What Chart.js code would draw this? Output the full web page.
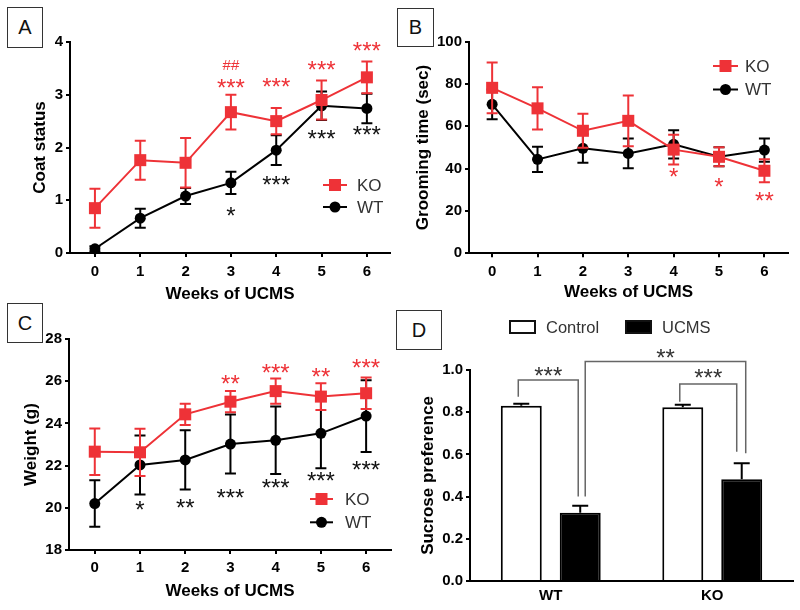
<!DOCTYPE html>
<html>
<head>
<meta charset="utf-8">
<script src="https://cdn.jsdelivr.net/npm/chart.js@4.4.1/dist/chart.umd.min.js"></script>
<style>
  body { margin: 0; background: #fff; width: 800px; height: 610px; position: relative; overflow: hidden; }
  canvas { position: absolute; }
  .tag { position: absolute; box-sizing: border-box; border: 1px solid #333; background: #fff; z-index: 5;
         font: 20px "Liberation Sans", Arial, sans-serif; color: #111; display: flex; align-items: center; justify-content: center; }
</style>
</head>
<body>
<canvas id="chartA" width="400" height="305" style="left:0;top:0"></canvas>
<canvas id="chartB" width="400" height="305" style="left:400px;top:0"></canvas>
<canvas id="chartC" width="400" height="310" style="left:0;top:300px"></canvas>
<canvas id="chartD" width="400" height="310" style="left:400px;top:300px"></canvas>
<div class="tag" style="left:7px;top:7px;width:36px;height:41px">A</div>
<div class="tag" style="left:397px;top:8px;width:37px;height:39px">B</div>
<div class="tag" style="left:7px;top:303px;width:36px;height:40px">C</div>
<div class="tag" style="left:396px;top:310px;width:46px;height:40px">D</div>
<script>
// ---- data ----
const weeks = [0, 1, 2, 3, 4, 5, 6];

// A: coat status
const coatKO = [0.85, 1.76, 1.71, 2.67, 2.50, 2.90, 3.33];
const coatKOErr = [0.37, 0.37, 0.47, 0.33, 0.25, 0.37, 0.30];
const coatWT = [0.08, 0.66, 1.08, 1.33, 1.95, 2.79, 2.74];
const coatWTErr = [0.05, 0.18, 0.15, 0.21, 0.28, 0.27, 0.28];
const coatKOMarkWeeks = [3, 3, 4, 5, 6];
const coatKOMarks = ['##', '***', '***', '***', '***'];
const coatKOMarkY = [3.56, 3.22, 3.23, 3.55, 3.91];
const coatWTMarkWeeks = [3, 4, 5, 6];
const coatWTMarks = ['*', '***', '***', '***'];
const coatWTMarkY = [0.78, 1.38, 2.24, 2.33];

// B: grooming time
const groomKO = [78.2, 68.5, 57.9, 62.6, 49.0, 45.6, 39.0];
const groomKOErr = [12, 10, 8, 12, 7, 4.5, 5.4];
const groomWT = [70.4, 44.4, 49.6, 47.2, 51.5, 45.6, 48.8];
const groomWTErr = [7, 6, 6.8, 7, 6.7, 4.5, 5.5];
const groomKOMarkWeeks = [4, 5, 6];
const groomKOMarks = ['*', '*', '**'];
const groomKOMarkY = [38.3, 33.4, 27];

// C: weight
const weightKO = [22.66, 22.63, 24.43, 25.03, 25.53, 25.27, 25.43];
const weightKOErr = [1.1, 1.12, 0.5, 0.5, 0.6, 0.63, 0.75];
const weightWT = [20.2, 22.03, 22.27, 23.02, 23.2, 23.53, 24.35];
const weightWTErr = [1.1, 1.4, 1.4, 1.4, 1.6, 1.65, 1.7];
const weightKOMarkWeeks = [3, 4, 5, 6];
const weightKOMarks = ['**', '***', '**', '***'];
const weightKOMarkY = [26.1, 26.6, 26.4, 26.85];
const weightWTMarkWeeks = [1, 2, 3, 4, 5, 6];
const weightWTMarks = ['*', '**', '***', '***', '***', '***'];
const weightWTMarkY = [20.1, 20.2, 20.7, 21.15, 21.5, 22.0];

// D: sucrose preference
const genotypes = ['WT', 'KO'];
const sucroseControl = [0.83, 0.823];
const sucroseControlErr = [0.01, 0.012];
const sucroseUCMS = [0.324, 0.482];
const sucroseUCMSErr = [0.033, 0.076];
// brackets: [dataset, index] pairs, leg bottoms, bracket top, star height
const bracketFrom = [[0, 0], [1, 0], [0, 1]];
const bracketTo = [[1, 0], [1, 1], [1, 1]];
const bracketLegs = [[0.873, 0.40], [0.40, 0.605], [0.85, 0.613]];
const bracketTop = [0.953, 1.04, 0.934];
const bracketText = ['***', '**', '***'];
const bracketTextY = [0.995, 1.08, 0.984];

const RED = '#ee3237';
const FONT = '"Liberation Sans", Arial, sans-serif';
Chart.defaults.font.family = FONT;
Chart.defaults.color = '#000';

// error bars, drawn just before (lines) or after (bars) each dataset
const errorBars = {
  id: 'errorBars',
  drawBars(chart, args) {
    const ds = chart.data.datasets[args.index];
    if (!ds.errors) return;
    const yScale = chart.scales.y;
    const ctx = chart.ctx;
    ctx.save();
    ctx.strokeStyle = ds.errorColor || ds.borderColor;
    ctx.lineWidth = 2;
    args.meta.data.forEach((el, i) => {
      const d = ds.data[i];
      const v = typeof d === 'object' ? d.y : d;
      const e = ds.errors[i];
      const top = yScale.getPixelForValue(v + e);
      const bot = yScale.getPixelForValue(ds.upOnly ? v : v - e);
      const w = ds.capHalf || 5.5;
      ctx.beginPath();
      ctx.moveTo(el.x, bot); ctx.lineTo(el.x, top);
      ctx.moveTo(el.x - w, top); ctx.lineTo(el.x + w, top);
      if (!ds.upOnly) { ctx.moveTo(el.x - w, bot); ctx.lineTo(el.x + w, bot); }
      ctx.stroke();
    });
    ctx.restore();
  },
  beforeDatasetDraw(chart, args) {
    if (chart.config.type === 'line') this.drawBars(chart, args);
  },
  afterDatasetDraw(chart, args) {
    if (chart.config.type === 'bar') this.drawBars(chart, args);
  }
};

function drawInkCentered(ctx, text, x, y) {
  const m = ctx.measureText(text);
  ctx.fillText(text, x, y + (m.actualBoundingBoxAscent - m.actualBoundingBoxDescent) / 2);
}

// significance marks placed in data units
const sigMarks = {
  id: 'sigMarks',
  afterDraw(chart, args, opts) {
    const ctx = chart.ctx;
    ctx.save();
    ctx.textAlign = 'center';
    ctx.textBaseline = 'alphabetic';
    (opts.groups || []).forEach(g => {
      ctx.fillStyle = g.color;
      g.texts.forEach((t, i) => {
        ctx.font = (t[0] === '#' ? '15px ' : '24px ') + FONT;
        const x = chart.scales.x.getPixelForValue(g.xs[i]);
        const y = chart.scales.y.getPixelForValue(g.ys[i]);
        drawInkCentered(ctx, t, x, y);
      });
    });
    ctx.restore();
  }
};

// legend inside the plot for the line panels
const innerLegend = {
  id: 'innerLegend',
  afterDraw(chart, args, opts) {
    if (!opts.x) return;
    const ctx = chart.ctx;
    ctx.save();
    chart.data.datasets.forEach((ds, i) => {
      const y = opts.y + i * opts.dy;
      ctx.strokeStyle = ds.borderColor;
      ctx.fillStyle = ds.borderColor;
      ctx.lineWidth = 2;
      ctx.beginPath();
      ctx.moveTo(opts.x, y); ctx.lineTo(opts.x + opts.len, y);
      ctx.stroke();
      const cx = opts.x + opts.len / 2;
      ctx.beginPath();
      if (ds.pointStyle === 'rect') ctx.rect(cx - 6, y - 6, 12, 12);
      else ctx.arc(cx, y, 5.5, 0, Math.PI * 2);
      ctx.fill();
      ctx.fillStyle = '#333';
      ctx.font = '17px ' + FONT;
      ctx.textAlign = 'left';
      ctx.textBaseline = 'middle';
      ctx.fillText(ds.label, opts.textX, y + 1);
    });
    ctx.restore();
  }
};

function toPoints(vals) {
  return weeks.map((w, i) => ({ x: w, y: vals[i] }));
}

function lineDataset(label, vals, errs, color, style) {
  return {
    label: label,
    data: toPoints(vals),
    errors: errs,
    borderColor: color,
    backgroundColor: color,
    borderWidth: 2,
    pointStyle: style,
    pointRadius: style === 'rect' ? 8.5 : 5.5,
    pointBorderWidth: 0,
    tension: 0,
    clip: false
  };
}

function axisStyle() {
  return {
    grid: { drawOnChartArea: false, drawTicks: true, tickLength: 4, color: '#000', lineWidth: 2 },
    border: { display: true, color: '#000', width: 2 }
  };
}

function createLinePanel(id, p) {
  const xAxis = Object.assign(axisStyle(), {
    type: 'linear', min: p.xMin, max: p.xMax,
    afterBuildTicks: s => { s.ticks = weeks.map(w => ({ value: w })); },
    afterFit: s => { s.height = p.xHeight; },
    ticks: { font: { size: 15, weight: 'bold' }, padding: p.xTickPad, color: '#000' },
    title: { display: true, text: 'Weeks of UCMS', font: { size: 17, weight: 'bold' }, padding: { top: 0, bottom: p.xTitlePad }, color: '#000' }
  });
  const yAxis = Object.assign(axisStyle(), {
    min: p.yMin, max: p.yMax,
    afterFit: s => { s.width = p.yWidth; },
    ticks: { stepSize: p.yStep, font: { size: 15, weight: 'bold' }, padding: 3, color: '#000' },
    title: { display: true, text: p.yTitle, font: { size: 17, weight: 'bold' }, padding: { top: p.yTitlePad, bottom: 0 }, color: '#000' }
  });
  return new Chart(document.getElementById(id), {
    type: 'line',
    data: { datasets: p.datasets },
    options: {
      responsive: false, animation: false, events: [],
      devicePixelRatio: 1,
      layout: { autoPadding: false, padding: p.padding },
      scales: { x: xAxis, y: yAxis },
      plugins: {
        legend: { display: false }, tooltip: { enabled: false },
        sigMarks: { groups: p.marks },
        innerLegend: p.legend
      }
    },
    plugins: [errorBars, sigMarks, innerLegend]
  });
}

createLinePanel('chartA', {
  xMin: -0.55, xMax: 6.51, yMin: 0, yMax: 4, yStep: 1,
  yTitle: 'Coat status', yWidth: 70, yTitlePad: 30,
  xHeight: 52, xTickPad: 6, xTitlePad: 0,
  padding: { left: 0, top: 42, right: 10, bottom: 0 },
  datasets: [
    lineDataset('KO', coatKO, coatKOErr, RED, 'rect'),
    lineDataset('WT', coatWT, coatWTErr, '#000', 'circle')
  ],
  marks: [
    { color: RED, xs: coatKOMarkWeeks, ys: coatKOMarkY, texts: coatKOMarks },
    { color: '#111', xs: coatWTMarkWeeks, ys: coatWTMarkY, texts: coatWTMarks }
  ],
  legend: { x: 323, y: 185, dy: 22, len: 24, textX: 357 }
});

createLinePanel('chartB', {
  xMin: -0.51, xMax: 6.52, yMin: 0, yMax: 100, yStep: 20,
  yTitle: 'Grooming time (sec)', yWidth: 69, yTitlePad: 13,
  xHeight: 51.7, xTickPad: 6, xTitlePad: 2,
  padding: { left: 0, top: 41.7, right: 12, bottom: 0 },
  datasets: [
    lineDataset('KO', groomKO, groomKOErr, RED, 'rect'),
    lineDataset('WT', groomWT, groomWTErr, '#000', 'circle')
  ],
  marks: [
    { color: RED, xs: groomKOMarkWeeks, ys: groomKOMarkY, texts: groomKOMarks }
  ],
  legend: { x: 313, y: 66, dy: 23.5, len: 25, textX: 345 }
});

createLinePanel('chartC', {
  xMin: -0.57, xMax: 6.55, yMin: 18, yMax: 28, yStep: 2,
  yTitle: 'Weight (g)', yWidth: 69, yTitlePad: 21.5,
  xHeight: 60, xTickPad: 5, xTitlePad: 8,
  padding: { left: 0, top: 39, right: 9, bottom: 0 },
  datasets: [
    lineDataset('KO', weightKO, weightKOErr, RED, 'rect'),
    lineDataset('WT', weightWT, weightWTErr, '#000', 'circle')
  ],
  marks: [
    { color: RED, xs: weightKOMarkWeeks, ys: weightKOMarkY, texts: weightKOMarks },
    { color: '#111', xs: weightWTMarkWeeks, ys: weightWTMarkY, texts: weightWTMarks }
  ],
  legend: { x: 310, y: 199, dy: 23.3, len: 23, textX: 345 }
});

// D: brackets and legend for the bar panel
const barExtras = {
  id: 'barExtras',
  afterDraw(chart) {
    const ctx = chart.ctx;
    const y = chart.scales.y;
    const legOffsets = [[-3, -2], [5, 4], [-3, -5]];
    ctx.save();
    ctx.strokeStyle = '#666';
    ctx.lineWidth = 1.5;
    bracketFrom.forEach((from, i) => {
      const to = bracketTo[i];
      const x1 = chart.getDatasetMeta(from[0]).data[from[1]].x + legOffsets[i][0];
      const x2 = chart.getDatasetMeta(to[0]).data[to[1]].x + legOffsets[i][1];
      const top = y.getPixelForValue(bracketTop[i]);
      ctx.beginPath();
      ctx.moveTo(x1, y.getPixelForValue(bracketLegs[i][0]));
      ctx.lineTo(x1, top);
      ctx.lineTo(x2, top);
      ctx.lineTo(x2, y.getPixelForValue(bracketLegs[i][1]));
      ctx.stroke();
      ctx.fillStyle = '#333';
      ctx.font = '24px ' + FONT;
      ctx.textAlign = 'center';
      drawInkCentered(ctx, bracketText[i], (x1 + x2) / 2, y.getPixelForValue(bracketTextY[i]));
    });
    // legend at the top
    const legX = [110, 226];
    chart.data.datasets.forEach((ds, i) => {
      ctx.fillStyle = ds.backgroundColor;
      ctx.fillRect(legX[i], 21, 25, 12);
      ctx.strokeStyle = '#111';
      ctx.lineWidth = 2;
      ctx.strokeRect(legX[i], 21, 25, 12);
      ctx.fillStyle = '#333';
      ctx.font = '16.5px ' + FONT;
      ctx.textAlign = 'left';
      ctx.textBaseline = 'middle';
      ctx.fillText(ds.label, legX[i] + 36, 28);
    });
    ctx.restore();
  }
};

new Chart(document.getElementById('chartD'), {
  type: 'bar',
  data: {
    labels: genotypes,
    datasets: [
      { label: 'Control', data: sucroseControl, errors: sucroseControlErr, upOnly: true, capHalf: 8,
        backgroundColor: '#fff', borderColor: '#000', errorColor: '#000', borderWidth: 2,
        categoryPercentage: 0.73, barPercentage: 0.695 },
      { label: 'UCMS', data: sucroseUCMS, errors: sucroseUCMSErr, upOnly: true, capHalf: 8,
        backgroundColor: '#000', borderColor: '#000', errorColor: '#000', borderWidth: 2,
        categoryPercentage: 0.73, barPercentage: 0.695 }
    ]
  },
  options: {
    responsive: false, animation: false, events: [],
    devicePixelRatio: 1,
    layout: { autoPadding: false, padding: { left: 0, top: 70, right: 7, bottom: 0 } },
    scales: {
      x: {
        grid: { display: false, drawTicks: false },
        border: { display: true, color: '#000', width: 2 },
        afterFit: s => { s.height = 29; },
        ticks: { font: { size: 15, weight: 'bold' }, padding: 6, color: '#000' }
      },
      y: Object.assign(axisStyle(), {
        min: 0, max: 1,
        afterFit: s => { s.width = 70; },
        ticks: { stepSize: 0.2, font: { size: 15, weight: 'bold' }, padding: 3, color: '#000',
                 callback: v => v.toFixed(1) },
        title: { display: true, text: 'Sucrose preference', font: { size: 17, weight: 'bold' }, padding: { top: 18, bottom: 0 }, color: '#000' }
      })
    },
    plugins: { legend: { display: false }, tooltip: { enabled: false } }
  },
  plugins: [errorBars, barExtras]
});
</script>
</body>
</html>
